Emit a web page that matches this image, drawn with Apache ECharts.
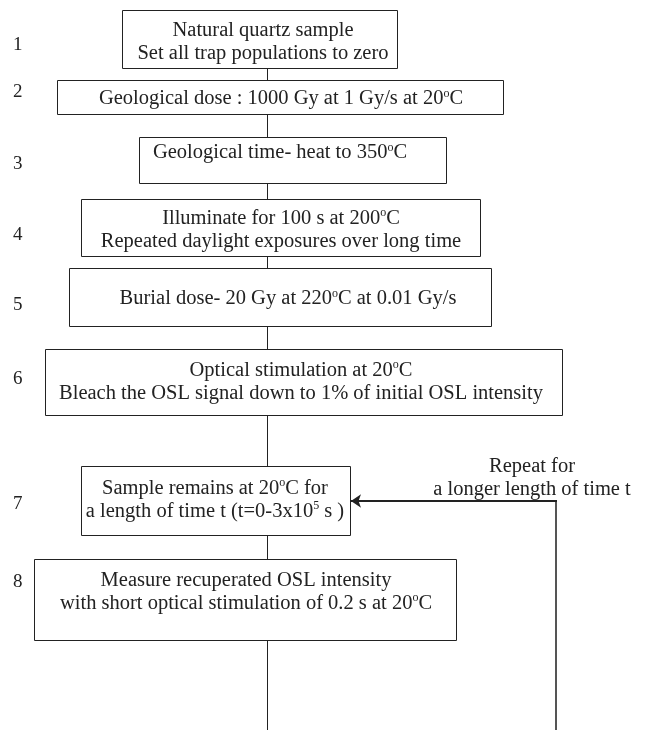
<!DOCTYPE html>
<html>
<head>
<meta charset="utf-8">
<script src="https://cdn.jsdelivr.net/npm/echarts@6/dist/echarts.min.js"></script>
<style>
  html, body { margin: 0; padding: 0; background: #fff; }
  #chart { width: 648px; height: 730px; }
</style>
</head>
<body>
<div id="chart"></div>
<script>
// step numbers and texts ({s|..} = superscript)
const stepNumbers = ['1', '2', '3', '4', '5', '6', '7', '8'];
const stepTexts = [
  'Natural quartz sample\nSet all trap populations to zero',
  'Geological dose : 1000 Gy at 1 Gy/s at 20{s|o}C',
  'Geological time- heat to 350{s|o}C',
  'Illuminate for 100 s at 200{s|o}C\nRepeated daylight exposures over long time',
  'Burial dose- 20 Gy at 220{s|o}C at 0.01 Gy/s',
  'Optical stimulation at 20{s|o}C\nBleach the OSL signal down to 1% of initial OSL intensity',
  'Sample remains at 20{s|o}C for\na length of time t (t=0-3x10{s|5} s )',
  'Measure recuperated OSL intensity\nwith short optical stimulation of 0.2 s at 20{s|o}C'
];
const repeatText = 'Repeat for\na longer length of time t';

// layout of the boxes, in chart units (x 0..648, y 0..730 downwards)
const boxLayout = [
  // [left, top, right, bottom, textX, textY, labelY]
  [122, 10, 397, 68, 263, 42, 45],
  [57, 80, 503, 114, 281, 99, 92],
  [139, 137, 446, 183, 280, 153, 164],
  [81, 199, 480, 256, 281, 230, 235],
  [69, 268, 491, 326, 288, 299, 305],
  [45, 349, 562, 415, 301, 382, 379],
  [81, 466, 350, 535, 215, 500, 504],
  [34, 559, 456, 640, 246, 592, 582]
];
const spineX = 267;
const loopPath = [[556, 730], [556, 501], [351, 501]];

const font = '"Liberation Serif", "Times New Roman", serif';
const ink = '#222';
const textSize = 20.5;

const chart = echarts.init(document.getElementById('chart'));

chart.setOption({
  backgroundColor: '#fff',
  animation: false,
  grid: { left: 0, right: 0, top: 0, bottom: 0 },
  xAxis: { type: 'value', min: 0, max: 648, show: false },
  yAxis: { type: 'value', min: 0, max: 730, inverse: true, show: false },
  series: [
    {
      // main vertical connector
      type: 'lines',
      coordinateSystem: 'cartesian2d',
      z: 1,
      silent: true,
      lineStyle: { color: ink, width: 1, opacity: 1 },
      data: [{ coords: [[spineX, boxLayout[0][3]], [spineX, 730]] }]
    },
    {
      // feedback loop: right vertical part
      type: 'lines',
      coordinateSystem: 'cartesian2d',
      z: 1,
      silent: true,
      lineStyle: { color: '#555', width: 2, opacity: 1 },
      data: [{ coords: [loopPath[0], loopPath[1]] }]
    },
    {
      // feedback loop: arrow into step 7
      type: 'lines',
      coordinateSystem: 'cartesian2d',
      z: 1,
      silent: true,
      symbol: ['none', 'arrow'],
      symbolSize: [7, 10],
      lineStyle: { color: '#222', width: 1.8, opacity: 1 },
      data: [{ coords: [[loopPath[1][0] + 1, loopPath[1][1]], loopPath[2]] }]
    },
    {
      type: 'custom',
      z: 2,
      silent: true,
      data: stepTexts.map((t, i) => [i]),
      renderItem: function (params, api) {
        const i = api.value(0);
        const b = boxLayout[i];
        const p0 = api.coord([b[0], b[1]]);
        const p1 = api.coord([b[2], b[3]]);
        const tp = api.coord([b[4], b[5]]);
        const lp = api.coord([13, b[6]]);
        return {
          type: 'group',
          children: [
            {
              type: 'rect',
              shape: { x: p0[0] + 0.5, y: p0[1] + 0.5, width: p1[0] - p0[0], height: p1[1] - p0[1] },
              style: { fill: '#fff', stroke: ink, lineWidth: 1 }
            },
            {
              type: 'text',
              style: {
                text: stepTexts[i],
                x: tp[0], y: tp[1],
                align: 'center', verticalAlign: 'middle',
                fill: ink, fontFamily: font, fontSize: textSize, lineHeight: 23,
                rich: { s: { fontSize: 12, fontFamily: font, fill: ink, verticalAlign: 'top', lineHeight: 23 } }
              }
            },
            {
              type: 'text',
              style: {
                text: stepNumbers[i],
                x: lp[0], y: lp[1],
                align: 'left', verticalAlign: 'middle',
                fill: ink, fontFamily: font, fontSize: 19
              }
            }
          ]
        };
      }
    },
    {
      type: 'custom',
      z: 2,
      silent: true,
      data: [[532, 478]],
      renderItem: function (params, api) {
        const p = api.coord([api.value(0), api.value(1)]);
        return {
          type: 'text',
          style: {
            text: repeatText, x: p[0], y: p[1],
            align: 'center', verticalAlign: 'middle',
            fill: ink, fontFamily: font, fontSize: textSize, lineHeight: 23
          }
        };
      }
    }
  ]
});
</script>
</body>
</html>
